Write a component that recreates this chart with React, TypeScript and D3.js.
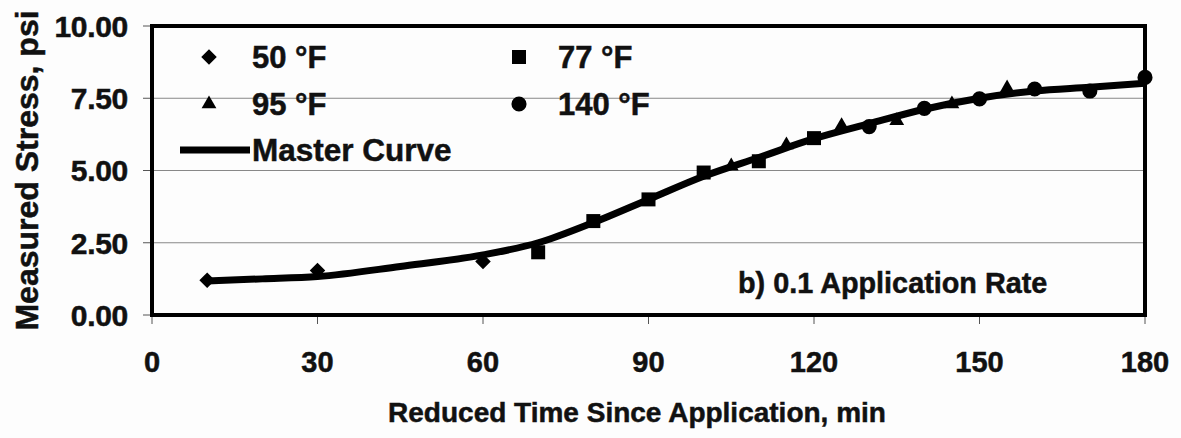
import React, { useEffect, useRef } from "react";
import * as d3 from "d3";

const xTicks = [0, 30, 60, 90, 120, 150, 180];
const yTicks = [0, 2.5, 5, 7.5, 10];

const s50: [number, number][] = [[10, 1.2], [30, 1.54], [60, 1.85]];
const s77: [number, number][] = [[70, 2.17], [80, 3.25], [90, 4.0], [100, 4.93], [110, 5.32], [120, 6.12]];
const s95: [number, number][] = [[105, 5.15], [115, 5.88], [125, 6.55], [135, 6.72], [145, 7.3], [155, 7.85]];
const s140: [number, number][] = [[130, 6.52], [140, 7.15], [150, 7.48], [160, 7.82], [170, 7.75], [180, 8.22]];
const master: [number, number][] = [
  [10, 1.18], [20, 1.25], [30, 1.33], [45, 1.68], [60, 2.08], [70, 2.5], [80, 3.2], [90, 4.0],
  [100, 4.8], [110, 5.45], [120, 6.1], [130, 6.62], [140, 7.12], [150, 7.5], [160, 7.75], [170, 7.88], [180, 8.02],
];

const W = 1181, H = 438;
const M = { left: 152, right: 1145, top: 26, bottom: 315 };
const FONT = "'Liberation Sans', Arial, sans-serif";

export default function App() {
  const ref = useRef<SVGSVGElement>(null);
  useEffect(() => {
    document.body.style.margin = "0";
    const svg = d3.select(ref.current);
    svg.selectAll("*").remove();
    const x = d3.scaleLinear().domain([0, 180]).range([M.left, M.right]);
    const y = d3.scaleLinear().domain([0, 10]).range([M.bottom, M.top]);

    svg.append("rect").attr("width", W).attr("height", H).attr("fill", "#fdfdfd");

    const txt = (sel: any, size: number) =>
      sel.attr("font-family", FONT).attr("font-weight", "bold").attr("font-size", size)
        .attr("fill", "#111").attr("stroke", "#111").attr("stroke-width", 0.5);

    // gridlines
    svg.append("g").selectAll("line").data(yTicks.filter(v => v > 0 && v < 10)).join("line")
      .attr("x1", M.left).attr("x2", M.right).attr("y1", d => y(d)).attr("y2", d => y(d))
      .attr("stroke", "#888").attr("stroke-width", 1);

    // y ticks
    svg.append("g").selectAll("line").data(yTicks).join("line")
      .attr("x1", M.left - 9).attr("x2", M.left).attr("y1", d => y(d)).attr("y2", d => y(d))
      .attr("stroke", "#555").attr("stroke-width", 1);
    txt(svg.append("g").selectAll("text").data(yTicks).join("text")
      .attr("x", 128).attr("y", d => y(d)).attr("dy", "0.36em").attr("text-anchor", "end"), 30)
      .attr("letter-spacing", -0.3)
      .text((d: number) => d.toFixed(2));

    // x ticks
    svg.append("g").selectAll("line").data(xTicks).join("line")
      .attr("x1", d => x(d)).attr("x2", d => x(d)).attr("y1", M.bottom).attr("y2", M.bottom + 9)
      .attr("stroke", "#555").attr("stroke-width", 1);
    txt(svg.append("g").selectAll("text").data(xTicks).join("text")
      .attr("x", d => x(d)).attr("y", 372).attr("text-anchor", "middle"), 29)
      .text((d: number) => String(d));

    // frame
    svg.append("rect").attr("x", M.left).attr("y", M.top).attr("width", M.right - M.left).attr("height", M.bottom - M.top)
      .attr("fill", "none").attr("stroke", "#000").attr("stroke-width", 4);

    // axis titles
    txt(svg.append("text").attr("x", 637).attr("y", 422).attr("text-anchor", "middle"), 28)
      .text("Reduced Time Since Application, min");
    txt(svg.append("text").attr("transform", `translate(38,170.5) rotate(-90)`).attr("text-anchor", "middle"), 32)
      .text("Measured Stress, psi");

    // annotation
    txt(svg.append("text").attr("x", 738).attr("y", 293), 28.8)
      .text("b) 0.1 Application Rate");

    // master curve
    const line = d3.line<[number, number]>().x(d => x(d[0])).y(d => y(d[1])).curve(d3.curveMonotoneX);
    svg.append("path").datum(master).attr("d", line).attr("fill", "none").attr("stroke", "#000")
      .attr("stroke-width", 7).attr("stroke-linejoin", "round");

    const sym = {
      diamond: d3.symbol().type(d3.symbolSquare).size(121),
      square: d3.symbol().type(d3.symbolSquare).size(196),
      triangle: d3.symbol().type(d3.symbolTriangle).size(95),
      circle: d3.symbol().type(d3.symbolCircle).size(180),
    };
    const series: { data: [number, number][]; k: keyof typeof sym; rot: number }[] = [
      { data: s50, k: "diamond", rot: 45 },
      { data: s77, k: "square", rot: 0 },
      { data: s95, k: "triangle", rot: 0 },
      { data: s140, k: "circle", rot: 0 },
    ];
    series.forEach(s => {
      svg.append("g").selectAll("path").data(s.data).join("path")
        .attr("d", sym[s.k]() as string)
        .attr("transform", d => `translate(${x(d[0])},${y(d[1])}) rotate(${s.rot})`)
        .attr("fill", "#000");
    });

    // legend
    const leg = svg.append("g");
    const items = [
      { k: "diamond" as const, rot: 45, mx: 209, my: 57, tx: 252, label: "50 °F" },
      { k: "square" as const, rot: 0, mx: 519, my: 57, tx: 558, label: "77 °F" },
      { k: "triangle" as const, rot: 0, mx: 209, my: 104, tx: 252, label: "95 °F" },
      { k: "circle" as const, rot: 0, mx: 519, my: 104, tx: 558, label: "140 °F" },
    ];
    items.forEach(it => {
      leg.append("path").attr("d", sym[it.k]() as string)
        .attr("transform", `translate(${it.mx},${it.my}) rotate(${it.rot})`).attr("fill", "#000");
      txt(leg.append("text").attr("x", it.tx).attr("y", it.my).attr("dy", "0.36em"), 31).text(it.label);
    });
    leg.append("line").attr("x1", 180).attr("x2", 250).attr("y1", 150).attr("y2", 150)
      .attr("stroke", "#000").attr("stroke-width", 7);
    txt(leg.append("text").attr("x", 252).attr("y", 150).attr("dy", "0.36em"), 31.5).text("Master Curve");
  }, []);
  return <svg ref={ref} width={W} height={H} style={{ display: "block" }} />;
}
